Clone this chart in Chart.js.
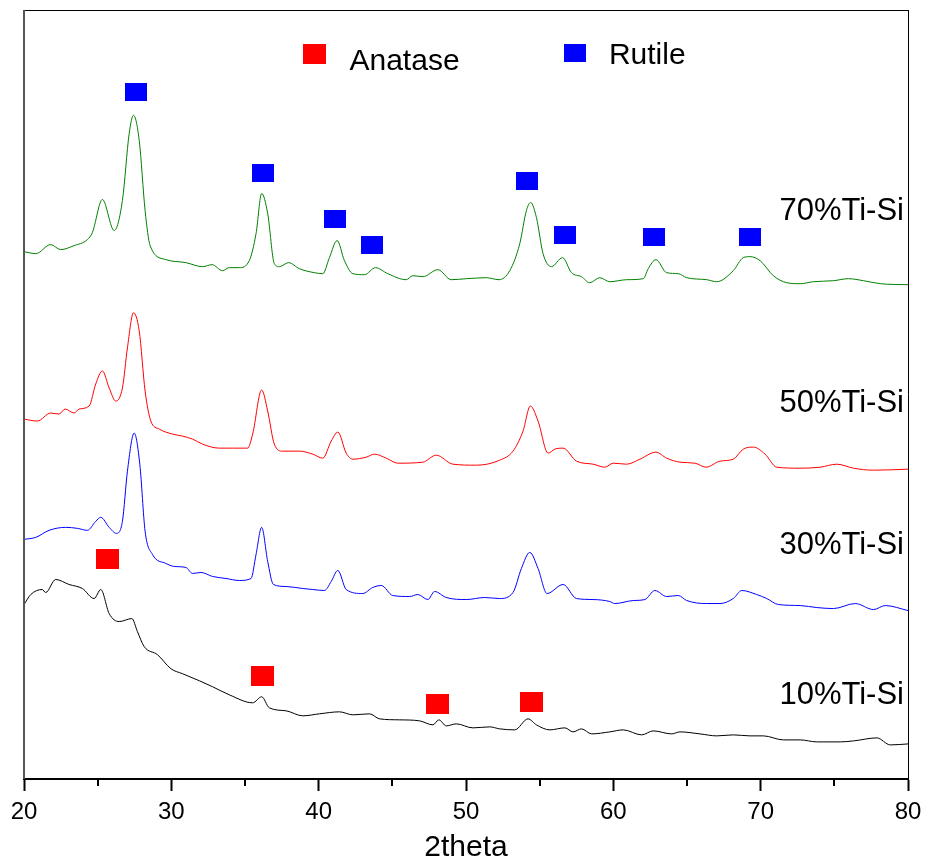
<!DOCTYPE html>
<html>
<head>
<meta charset="utf-8">
<script src="https://cdn.jsdelivr.net/npm/chart.js@4.4.1/dist/chart.umd.min.js"></script>
<style>
  body { margin: 0; background: #fff; }
  #wrap { position: relative; width: 925px; height: 861px; }
</style>
</head>
<body>
<div id="wrap"><canvas id="xrdChart"></canvas></div>
<script>
// 2theta (deg) and intensity (a.u., curves already offset) for each sample
const theta70 = [20.00, 20.80, 21.81, 22.49, 23.40, 24.30, 24.64, 25.32, 26.12, 26.68, 27.14, 27.43, 27.82, 28.22, 28.56, 29.63, 30.99, 32.12, 32.76, 33.48, 33.93, 34.61, 35.29, 35.75, 36.13, 36.54, 36.99, 37.33, 37.96, 38.69, 39.71, 40.28, 40.73, 41.25, 41.75, 42.32, 43.11, 43.86, 44.69, 45.94, 46.39, 47.07, 48.09, 49.00, 50.02, 51.38, 52.24, 52.97, 53.65, 54.10, 54.39, 54.78, 55.23, 55.80, 56.55, 57.16, 57.84, 58.40, 59.08, 59.76, 60.90, 62.03, 62.37, 62.89, 63.62, 64.41, 64.98, 66.34, 67.02, 68.14, 68.82, 69.28, 69.96, 70.86, 71.77, 72.68, 73.58, 74.94, 75.96, 76.98, 78.12, 80.00];
const int70 = [526, 524, 533, 528, 532, 538, 545, 578, 547, 577, 644, 662, 637, 567, 532, 518, 515, 511, 513, 507, 510, 510, 517, 544, 584, 564, 514, 511, 515, 509, 505, 504, 520, 537, 517, 504, 503, 510, 504, 498, 502, 501, 508, 498, 499, 500, 498, 507, 534, 567, 575, 560, 524, 511, 520, 505, 501, 495, 500, 496, 498, 499, 509, 518, 505, 504, 500, 498, 496, 507, 520, 521, 517, 502, 495, 494, 496, 497, 499, 497, 494, 493];

const theta50 = [20.00, 20.90, 21.81, 22.38, 22.79, 23.40, 23.74, 24.42, 24.87, 25.32, 25.78, 26.23, 26.68, 27.02, 27.43, 27.82, 28.22, 28.61, 29.18, 30.08, 30.76, 31.44, 32.12, 33.25, 34.16, 35.18, 35.52, 36.13, 36.54, 36.99, 37.56, 38.69, 39.60, 40.28, 40.85, 41.30, 41.87, 42.32, 43.23, 43.79, 44.59, 45.37, 47.07, 47.98, 49.11, 50.70, 52.29, 53.19, 53.87, 54.37, 54.89, 55.57, 56.03, 56.59, 57.50, 58.63, 59.42, 59.99, 60.90, 61.80, 62.89, 63.62, 64.52, 65.54, 66.29, 67.24, 68.14, 68.82, 69.50, 70.30, 71.09, 72.68, 74.04, 75.17, 76.30, 77.66, 80.00];
const int50 = [359, 357, 365, 364, 369, 365, 369, 372, 394, 407, 390, 377, 390, 430, 465, 447, 387, 357, 349, 344, 342, 339, 334, 330, 330, 330, 344, 388, 367, 334, 327, 327, 324, 320, 337, 346, 325, 319, 321, 324, 320, 315, 316, 323, 314, 313, 318, 327, 347, 372, 357, 325, 329, 330, 317, 314, 311, 315, 314, 319, 326, 320, 316, 315, 311, 317, 319, 329, 331, 324, 311, 310, 311, 314, 310, 308, 309];

const theta30 = [20.00, 20.80, 21.70, 22.83, 23.62, 24.30, 24.87, 25.21, 25.78, 26.27, 26.68, 27.02, 27.48, 27.86, 28.22, 28.72, 29.63, 30.20, 30.99, 31.44, 32.01, 32.80, 33.71, 34.61, 35.41, 35.75, 36.13, 36.54, 36.93, 37.79, 38.92, 39.60, 40.39, 40.85, 41.30, 41.87, 42.99, 43.67, 44.25, 45.03, 46.17, 46.73, 47.41, 47.87, 48.66, 50.02, 51.27, 52.29, 53.19, 53.76, 54.33, 54.89, 55.50, 56.59, 57.50, 58.63, 59.76, 60.10, 61.35, 62.14, 62.82, 63.62, 64.41, 64.98, 66.34, 67.24, 68.14, 68.72, 69.73, 70.41, 71.20, 72.68, 73.81, 74.94, 76.42, 77.66, 78.46, 80.00];
const int30 = [239, 241, 248, 251, 250, 248, 257, 261, 251, 245, 257, 307, 345, 314, 247, 224, 215, 212, 211, 205, 206, 202, 200, 198, 200, 224, 251, 217, 194, 192, 190, 189, 188, 197, 208, 189, 185, 191, 193, 183, 182, 184, 179, 187, 181, 179, 181, 180, 186, 210, 226, 210, 185, 194, 180, 179, 177, 175, 178, 179, 188, 182, 183, 178, 175, 175, 180, 188, 184, 180, 174, 173, 171, 170, 175, 169, 173, 168];

const theta10 = [20.00, 20.46, 21.24, 21.47, 22.15, 23.06, 23.96, 24.76, 25.21, 25.78, 26.46, 27.32, 27.70, 28.16, 29.06, 29.97, 30.76, 31.90, 32.80, 33.93, 35.52, 36.13, 36.65, 37.79, 38.92, 40.05, 41.41, 42.32, 43.45, 44.13, 45.49, 46.85, 47.75, 48.16, 48.66, 49.34, 50.47, 51.61, 52.29, 53.31, 54.21, 54.78, 55.69, 56.71, 57.27, 57.84, 58.52, 59.76, 60.67, 61.92, 62.71, 63.96, 64.52, 65.88, 67.02, 68.14, 69.28, 70.19, 71.54, 72.68, 73.81, 75.40, 76.30, 77.89, 78.80, 80.00];
const int10 = [174, 184, 189, 186, 199, 194, 190, 180, 189, 165, 157, 160, 147, 132, 124, 110, 105, 98, 92, 84, 76, 82, 71, 68, 63, 65, 67, 64, 65, 60, 59, 58, 54, 59, 53, 55, 51, 52, 50, 49, 60, 54, 49, 51, 47, 50, 45, 47, 49, 44, 48, 45, 47, 45, 43, 44, 43, 43, 39, 39, 37, 37, 38, 41, 34, 35];

// phase markers
const rutileTheta = [27.61, 36.19, 41.13, 43.64, 54.11, 56.71, 62.77, 69.27];
const rutileLevel = [685, 604, 559, 533, 596, 543, 541, 541];
const anataseTheta = [25.64, 36.18, 48.06, 54.42];
const anataseLevel = [219, 103, 75, 77];

const sampleNames = ["70%Ti-Si", "50%Ti-Si", "30%Ti-Si", "10%Ti-Si"];
const xTicks = [20, 30, 40, 50, 60, 70, 80];

const FONT = "'Liberation Sans', Arial, Helvetica, sans-serif";

function pts(xs, ys) {
  return xs.map((x, i) => ({ x: x, y: ys[i] }));
}

function squareIcon(color, w, h) {
  const c = document.createElement("canvas");
  c.width = w;
  c.height = h;
  const g = c.getContext("2d");
  g.fillStyle = color;
  g.fillRect(0, 0, w, h);
  return c;
}

const redBox = squareIcon("#ff0000", 23, 20);
const blueBox = squareIcon("#0000ff", 22, 18);

function curve(label, xs, ys, color) {
  return {
    type: "line",
    label: label,
    data: pts(xs, ys),
    borderColor: color,
    borderWidth: 1,
    pointRadius: 0,
    fill: false,
    cubicInterpolationMode: "monotone",
  };
}

// frame, minor ticks, in-plot legend and sample names
const decorPlugin = {
  id: "decor",
  afterDraw(chart, args, opts) {
    const { ctx, chartArea: a, scales } = chart;
    const x = scales.x;
    const y = scales.y;
    ctx.save();

    ctx.strokeStyle = "#000";
    ctx.lineWidth = 1;
    ctx.beginPath();
    ctx.moveTo(a.left, a.top + 0.5);
    ctx.lineTo(a.right, a.top + 0.5);
    ctx.moveTo(a.right + 0.5, a.top);
    ctx.lineTo(a.right + 0.5, a.bottom);
    ctx.stroke();
    ctx.strokeStyle = "#555";
    ctx.lineWidth = 2;
    ctx.beginPath();
    ctx.moveTo(a.left, a.top);
    ctx.lineTo(a.left, a.bottom);
    ctx.stroke();

    // minor ticks
    ctx.strokeStyle = "#000";
    ctx.lineWidth = 2;
    ctx.beginPath();
    for (let v = 25; v < 80; v += 10) {
      const px = Math.round(x.getPixelForValue(v));
      ctx.moveTo(px, a.bottom);
      ctx.lineTo(px, a.bottom + 7);
    }
    ctx.stroke();

    // legend
    ctx.fillStyle = "#000";
    ctx.font = "30px " + FONT;
    ctx.textBaseline = "alphabetic";
    ctx.textAlign = "left";
    opts.legend.forEach((item) => {
      const px = x.getPixelForValue(item.at);
      ctx.drawImage(item.icon, px - item.icon.width / 2, a.top + item.boxTop);
      ctx.fillStyle = "#000";
      ctx.fillText(item.text, px + item.icon.width / 2 + 23, a.top + item.baseline);
    });

    // sample labels
    ctx.font = "31px " + FONT;
    ctx.textAlign = "right";
    sampleNames.forEach((name, i) => {
      ctx.fillText(name, a.right - 4, y.getPixelForValue(opts.labelLevels[i]));
    });
    ctx.restore();
  },
};

const ctx = document.getElementById("xrdChart");
new Chart(ctx, {
  data: {
    datasets: [
      curve(sampleNames[0], theta70, int70, "#008000"),
      curve(sampleNames[1], theta50, int50, "#ff0000"),
      curve(sampleNames[2], theta30, int30, "#0000ff"),
      curve(sampleNames[3], theta10, int10, "#000000"),
      {
        type: "scatter",
        label: "Rutile",
        data: pts(rutileTheta, rutileLevel),
        pointStyle: blueBox,
        clip: false,
      },
      {
        type: "scatter",
        label: "Anatase",
        data: pts(anataseTheta, anataseLevel),
        pointStyle: redBox,
        clip: false,
      },
    ],
  },
  options: {
    responsive: true,
    maintainAspectRatio: false,
    animation: false,
    layout: {
      padding: { left: 24, right: 17, top: 10, bottom: 0 },
    },
    scales: {
      x: {
        type: "linear",
        min: 20,
        max: 80,
        afterBuildTicks: (axis) => {
          axis.ticks = xTicks.map((v) => ({ value: v }));
        },
        afterFit: (axis) => {
          // let layout padding alone decide the plot edges
          axis.paddingLeft = 0;
          axis.paddingRight = 0;
        },
        ticks: {
          color: "#000",
          padding: 9.5,
          font: { family: FONT, size: 24, lineHeight: 1 },
        },
        grid: {
          drawOnChartArea: false,
          drawTicks: true,
          tickLength: 12,
          tickWidth: 2,
          tickColor: "#000",
        },
        border: { display: true, color: "#000", width: 2 },
        title: {
          display: true,
          text: "2theta",
          color: "#000",
          font: { family: FONT, size: 30, lineHeight: 0.9 },
          padding: { top: 0, bottom: 0 },
        },
      },
      y: {
        type: "linear",
        display: false,
        min: 0,
        max: 767,
      },
    },
    plugins: {
      legend: { display: false },
      tooltip: { enabled: false },
      decor: {
        legend: [
          { at: 39.75, icon: redBox, boxTop: 34, baseline: 60, text: "Anatase" },
          { at: 57.39, icon: blueBox, boxTop: 34, baseline: 54, text: "Rutile" },
        ],
        labelLevels: [558, 366, 224, 75],
      },
    },
  },
  plugins: [decorPlugin],
});
</script>
</body>
</html>
